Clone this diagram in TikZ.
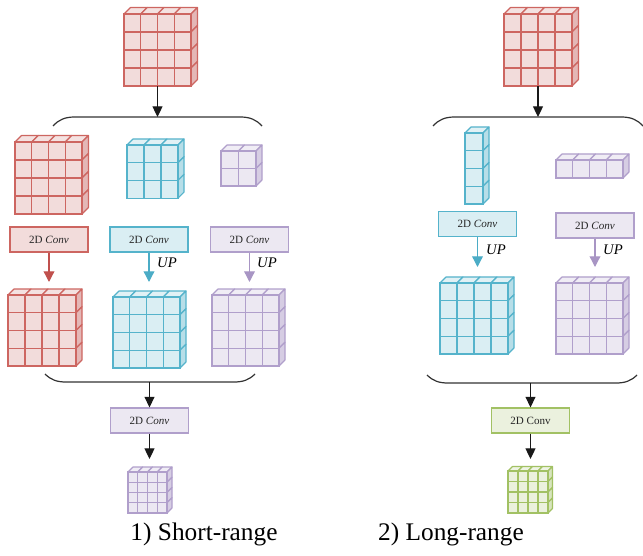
\documentclass[tikz,border=0pt]{standalone}
\usepackage{fontspec}
\setmainfont{Liberation Serif}
\usetikzlibrary{arrows.meta}

% colour families: fill, top face, side face, line
\definecolor{redfill}{HTML}{F2DCDB}\definecolor{redtop}{HTML}{F4E2E1}
\definecolor{redside}{HTML}{E4B7B6}\definecolor{redline}{HTML}{CD6661}
\definecolor{redarrow}{HTML}{C0504D}
\definecolor{bluefill}{HTML}{DAEEF3}\definecolor{bluetop}{HTML}{E1F1F5}
\definecolor{blueside}{HTML}{B7DEE8}\definecolor{blueline}{HTML}{55B3CB}
\definecolor{bluearrow}{HTML}{4BACC6}
\definecolor{purfill}{HTML}{ECE8F2}\definecolor{purtop}{HTML}{F0EDF5}
\definecolor{purside}{HTML}{D6CDE3}\definecolor{purline}{HTML}{B09FCB}
\definecolor{purarrow}{HTML}{A895C4}
\definecolor{grnfill}{HTML}{EBF1DE}\definecolor{grntop}{HTML}{EEF4E4}
\definecolor{grnside}{HTML}{D7E4BD}\definecolor{grnline}{HTML}{A2C164}

% \gridcube{name}{left x}{top y}{cols}{rows}{cell w}{cell h}{depth}{colour family}
\newcommand\gridcube[9]{%
  \pgfmathsetmacro\gcW{#4*#6}%
  \pgfmathsetmacro\gcH{#5*#7}%
  \foreach \i in {1,...,#4}{%
    \filldraw[fill=#9top,draw=#9line,line width=0.85pt,line join=round]
      ({#2+(\i-1)*#6},#3) -- ++(#8,-#8) -- ++(#6,0) -- ++(-#8,#8) -- cycle;}%
  \foreach \j in {1,...,#5}{%
    \filldraw[fill=#9side,draw=#9line,line width=0.85pt,line join=round]
      ({#2+\gcW},{#3+(\j-1)*#7}) -- ++(#8,-#8) -- ++(0,#7) -- ++(-#8,#8) -- cycle;}%
  \node[draw=#9line,fill=#9fill,line width=0.85pt,anchor=north west,inner sep=0pt,
        outer sep=0pt,minimum width=\gcW*0.75pt,minimum height=\gcH*0.75pt]
        (#1) at (#2,#3) {};%
  \foreach \i in {1,...,#4}{%
    \draw[#9line,line width=0.85pt] ({#2+\i*#6},#3) -- ++(0,\gcH);}%
  \foreach \j in {1,...,#5}{%
    \draw[#9line,line width=0.85pt] (#2,{#3+\j*#7}) -- ++(\gcW,0);}%
}

\tikzset{
  convbox/.style={draw=#1line,fill=#1fill,line width=0.85pt,minimum width=78*0.75pt,
    minimum height=25*0.75pt,inner sep=0pt,font=\fontsize{8.3}{9}\selectfont,text=black!85},
  blk/.style={-{Triangle[length=8pt,width=7.5pt]},line width=0.9pt,black!90},
  carrow/.style={-{Triangle[length=8pt,width=8pt]},line width=1pt,draw=#1},
  bracket/.style={line width=0.9pt,black!80},
  uplabel/.style={font=\itshape\fontsize{11}{12}\selectfont,inner sep=0pt},
  caption/.style={font=\fontsize{19}{22}\selectfont,anchor=base,inner sep=0pt}
}

\begin{document}
\begin{tikzpicture}[x=0.75pt,y=-0.75pt]
\useasboundingbox (0,0) rectangle (643,556);

% ---------------- short-range branch ----------------
\gridcube{t1}{124}{14}{4}{4}{16.75}{18}{6.5}{red}
\coordinate (br1) at (157.5,117);
\draw[bracket] (53,126) .. controls (59,119.5) and (65,117) .. (75,117) -- (240,117)
  .. controls (250,117) and (256,119.5) .. (262,126);
\draw[blk] (t1.south) -- (br1);

\gridcube{a1}{15}{142}{4}{4}{16.75}{18}{6.5}{red}
\gridcube{b1}{127}{145}{3}{3}{17}{17.7}{6}{blue}
\gridcube{c1}{221}{151}{2}{2}{17.5}{17.5}{6}{pur}

\node[convbox=red]  (cv1) at (49,239.5)  {2D \textit{Conv}};
\node[convbox=blue] (cv2) at (149,239.5) {2D \textit{Conv}};
\node[convbox=pur]  (cv3) at (249.5,239.5) {2D \textit{Conv}};

\gridcube{a2}{8}{295}{4}{4}{17}{17.75}{6}{red}
\gridcube{b2}{113}{297}{4}{4}{16.75}{17.75}{6}{blue}
\gridcube{c2}{212}{295}{4}{4}{16.75}{17.75}{6}{pur}

\draw[carrow=redarrow,shorten >=9.75pt]  (cv1.south) -- (cv1.south |- a2.north);
\draw[carrow=bluearrow,shorten >=11.25pt] (cv2.south) -- (cv2.south |- b2.north);
\draw[carrow=purarrow,shorten >=9.75pt]  (cv3.south) -- (cv3.south |- c2.north);
\node[uplabel] (up1) at (167,263) {UP};
\node[uplabel] (up2) at (267,263) {UP};

\coordinate (br2) at (149.5,382);
\draw[bracket] (45,374) .. controls (51,380) and (57,382) .. (66,382) -- (234,382)
  .. controls (243,382) and (249,380) .. (255,374);
\node[convbox=pur] (cv4) at (149.5,420.5) {2D \textit{Conv}};
\draw[blk] (br2) -- (br2 |- cv4.north);
\gridcube{s1}{128}{472}{4}{4}{9.75}{10.25}{5}{pur}
\draw[blk,shorten >=9.75pt] (cv4.south) -- (cv4.south |- s1.north);

\node[caption] (cap1) at (204,540) {1) Short-range};

% ---------------- long-range branch ----------------
\gridcube{t2}{504}{14}{4}{4}{17}{18}{6.5}{red}
\coordinate (br3) at (538,117);
\draw[bracket] (433,126) .. controls (439,119.5) and (445,117) .. (455,117) -- (621,117)
  .. controls (631,117) and (637,119.5) .. (643,126);
\draw[blk] (t2.south -| br3) -- (br3);

\gridcube{d1}{465}{133}{1}{4}{18}{17.75}{6}{blue}
\gridcube{e1}{556}{160}{4}{1}{16.75}{18}{6}{pur}

\node[convbox=blue] (cv5) at (477.5,224) {2D \textit{Conv}};
\node[convbox=pur]  (cv6) at (595,225.5) {2D \textit{Conv}};

\gridcube{d2}{440}{283}{4}{4}{17}{17.75}{6}{blue}
\gridcube{e2}{556}{283}{4}{4}{16.75}{17.75}{6}{pur}

\draw[carrow=bluearrow,shorten >=12pt] (cv5.south) -- (cv5.south |- d2.north);
\draw[carrow=purarrow,shorten >=12pt]  (cv6.south) -- (cv6.south |- e2.north);
\node[uplabel] (up3) at (496,250) {UP};
\node[uplabel] (up4) at (613,250) {UP};

\coordinate (br4) at (530.5,383);
\draw[bracket] (427,375) .. controls (433,381) and (439,383) .. (448,383) -- (616,383)
  .. controls (625,383) and (631,381) .. (637,375);
\node[convbox=grn] (cv7) at (530.5,420.5) {2D Conv};
\draw[blk] (br4) -- (br4 |- cv7.north);
\gridcube{s2}{508}{471}{4}{4}{10}{10.5}{4.5}{grn}
\draw[blk,shorten >=9pt] (cv7.south) -- (cv7.south |- s2.north);

\node[caption] (cap2) at (451,540) {2) Long-range};
\end{tikzpicture}
\end{document}
